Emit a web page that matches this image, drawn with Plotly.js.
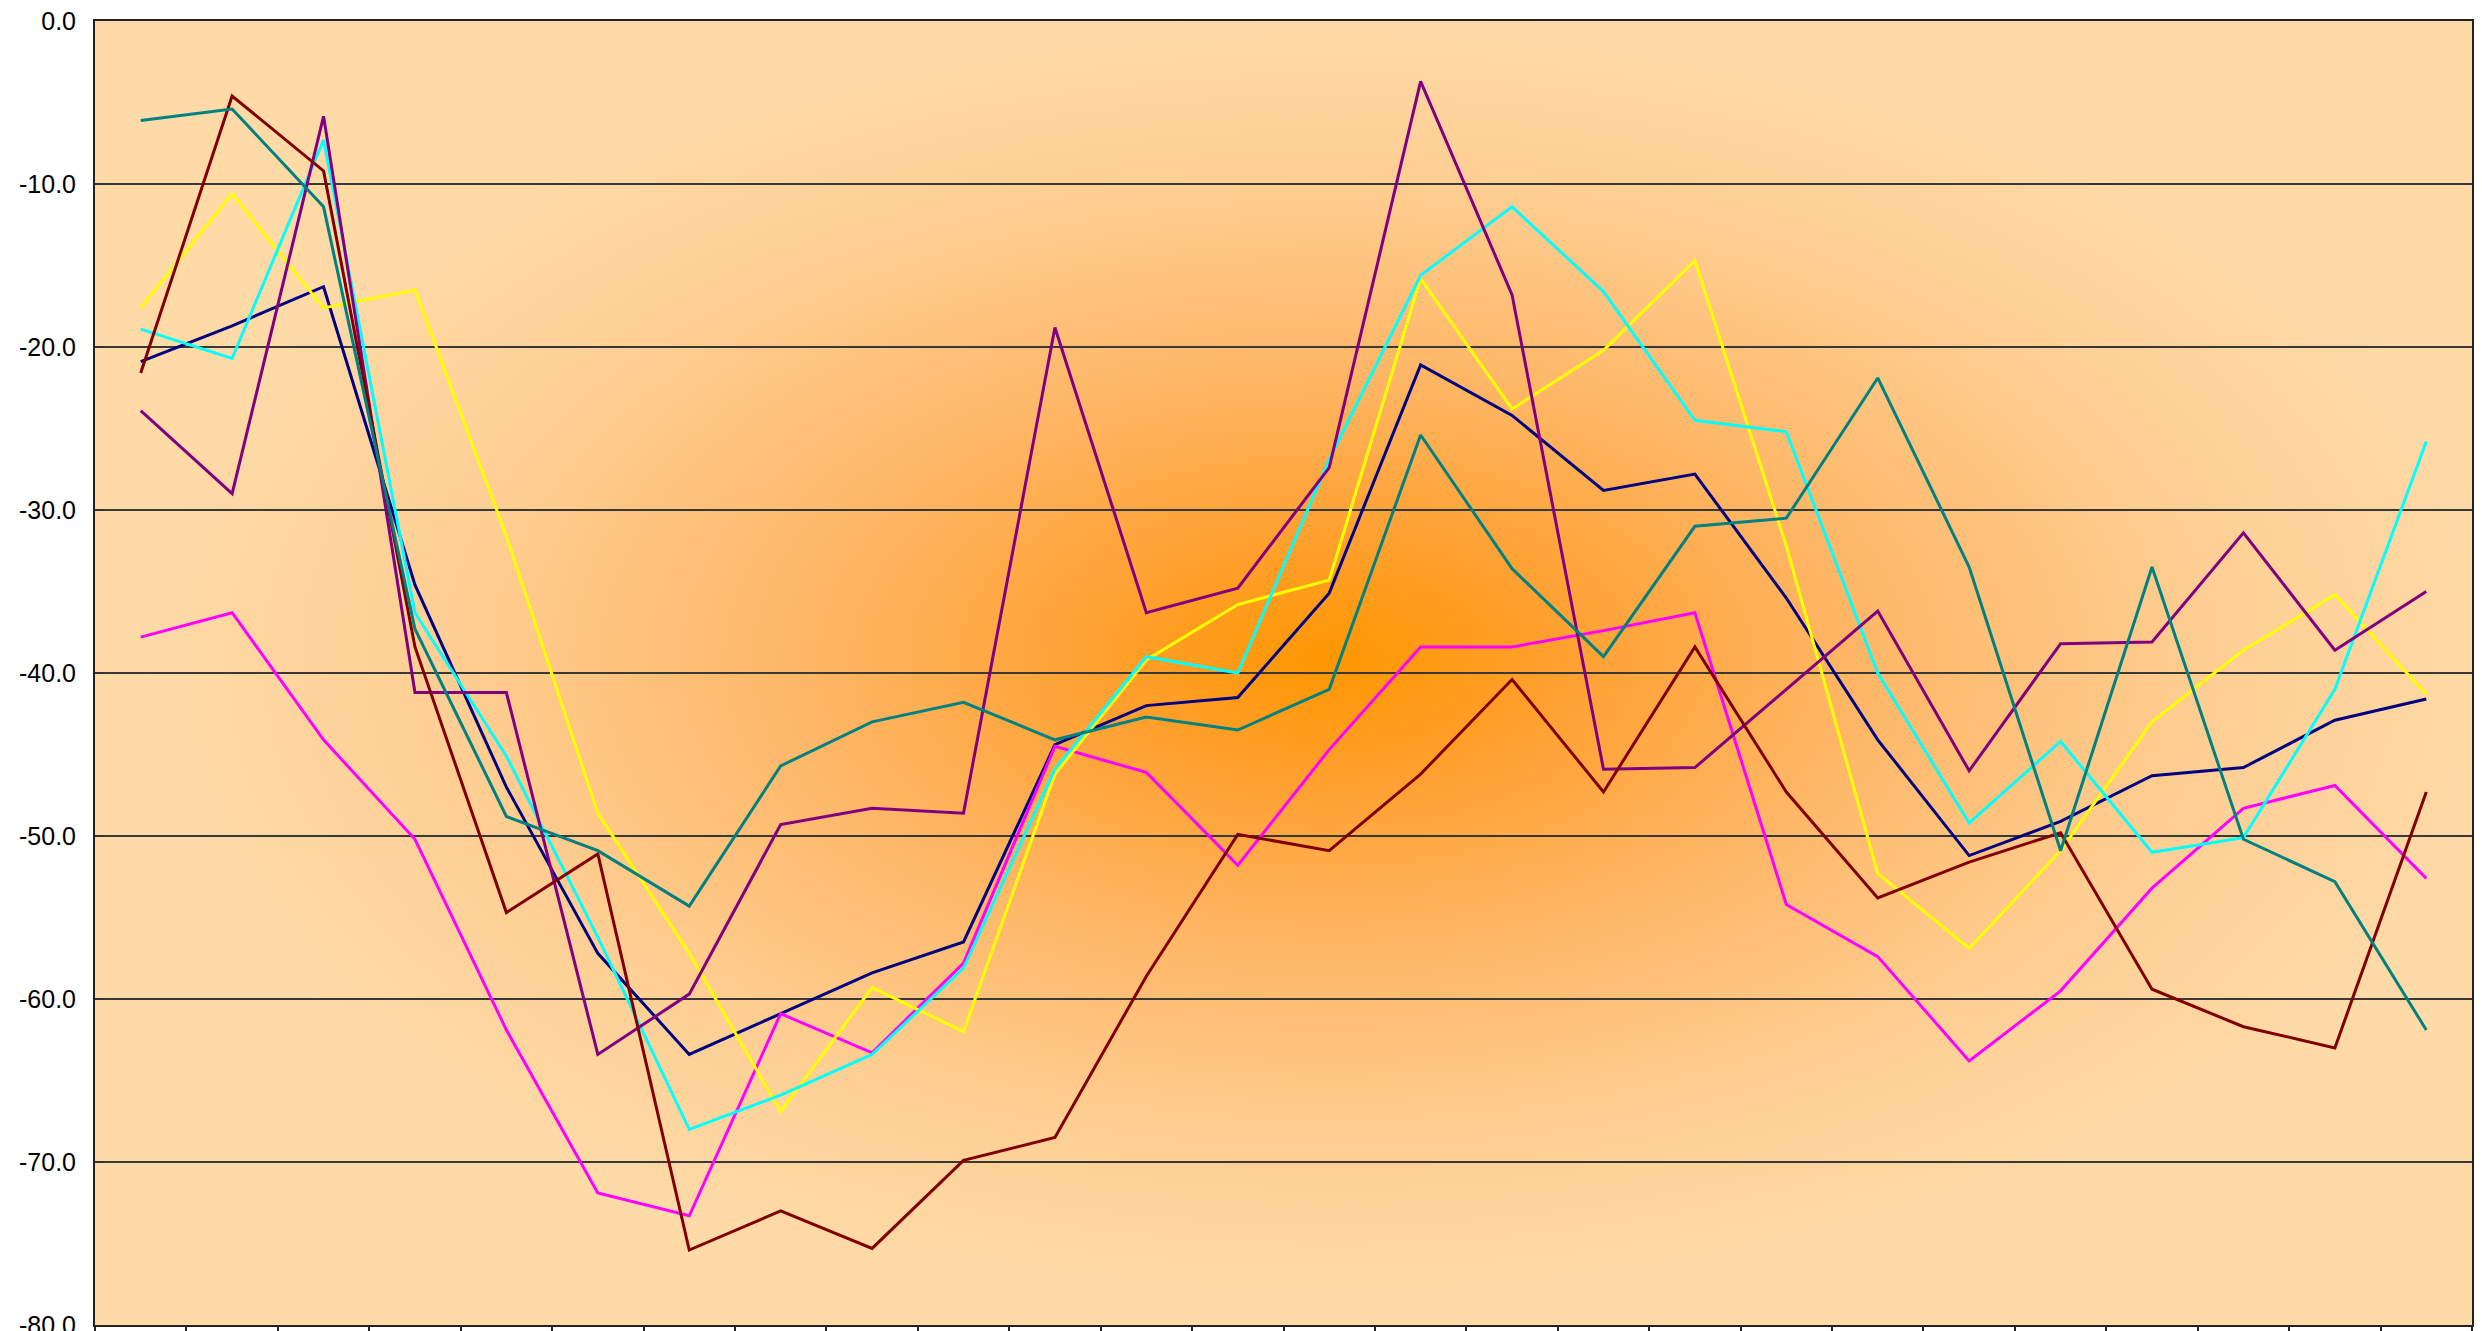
<!DOCTYPE html>
<html>
<head>
<meta charset="utf-8">
<script src="https://cdn.plot.ly/plotly-3.0.1.min.js"></script>
<style>
  html, body { margin: 0; padding: 0; background: #ffffff; }
  #chart { width: 2482px; height: 1331px; }
</style>
</head>
<body>
<div id="chart"></div>
<script>
// ---- data ----
const categories = ['1','2','3','4','5','6','7','8','9','10','11','12','13',
                    '14','15','16','17','18','19','20','21','22','23','24','25','26'];

const seriesNavy    = [-20.9, -18.7, -16.3, -34.6, -47.0, -57.2, -63.4, -60.9, -58.4, -56.5, -44.4, -42.0, -41.5,
                       -35.1, -21.1, -24.2, -28.8, -27.8, -35.4, -44.1, -51.2, -49.1, -46.3, -45.8, -42.9, -41.6];
const seriesMagenta = [-37.8, -36.3, -44.1, -50.2, -61.9, -71.9, -73.3, -60.9, -63.3, -57.8, -44.5, -46.1, -51.8,
                       -44.7, -38.4, -38.4, -37.4, -36.3, -54.2, -57.4, -63.8, -59.5, -53.2, -48.3, -46.9, -52.6];
const seriesYellow  = [-17.6, -10.6, -17.6, -16.5, -31.6, -48.6, -57.2, -66.9, -59.3, -62.0, -46.2, -39.2, -35.8,
                       -34.3, -15.8, -23.8, -20.2, -14.7, -32.2, -52.3, -56.9, -50.9, -43.0, -38.6, -35.2, -41.3];
const seriesCyan    = [-18.9, -20.7, -7.3, -36.3, -45.1, -56.2, -68.0, -65.9, -63.4, -58.1, -45.9, -39.0, -40.0,
                       -26.9, -15.6, -11.4, -16.6, -24.5, -25.2, -40.0, -49.2, -44.2, -51.0, -50.1, -41.0, -25.8];
const seriesPurple  = [-23.9, -29.0, -5.85, -41.2, -41.2, -63.4, -59.7, -49.3, -48.3, -48.6, -18.8, -36.3, -34.8,
                       -27.4, -3.7, -16.8, -45.9, -45.8, -41.0, -36.2, -46.0, -38.2, -38.1, -31.4, -38.6, -35.0];
const seriesDarkRed = [-21.6, -4.6, -9.2, -38.4, -54.7, -51.1, -75.4, -73.0, -75.3, -69.9, -68.5, -58.6, -49.9,
                       -50.9, -46.2, -40.4, -47.3, -38.4, -47.3, -53.8, -51.6, -49.8, -59.4, -61.7, -63.0, -47.3];
const seriesTeal    = [-6.1, -5.4, -11.4, -37.3, -48.8, -50.9, -54.3, -45.7, -43.0, -41.8, -44.1, -42.7, -43.5,
                       -41.0, -25.4, -33.6, -39.0, -31.0, -30.5, -21.9, -33.5, -50.9, -33.5, -50.2, -52.8, -61.9];

const yTickVals   = [0, -10, -20, -30, -40, -50, -60, -70, -80];
const yTickLabels = ['0.0', '-10.0', '-20.0', '-30.0', '-40.0', '-50.0', '-60.0', '-70.0', '-80.0'];

// ---- styles ----
const series = [
  {y: seriesNavy,    color: '#000080'},
  {y: seriesMagenta, color: '#FF00FF'},
  {y: seriesYellow,  color: '#FFFF00'},
  {y: seriesCyan,    color: '#00FFFF'},
  {y: seriesPurple,  color: '#800080'},
  {y: seriesDarkRed, color: '#800000'},
  {y: seriesTeal,    color: '#008080'}
];

const traces = series.map(s => ({
  type: 'scatter',
  mode: 'lines',
  x: categories,
  y: s.y,
  line: {color: s.color, width: 3},
  hoverinfo: 'skip',
  showlegend: false
}));

// radial background gradient (plot area)
const svg =
  '<svg xmlns="http://www.w3.org/2000/svg" width="1000" height="1000" viewBox="0 0 1000 1000" preserveAspectRatio="none">' +
  '<defs><radialGradient id="g" cx="0.52" cy="0.49" r="0.5" gradientUnits="objectBoundingBox">' +
  '<stop offset="0" stop-color="#FF9600"/>' +
  '<stop offset="0.2" stop-color="#FFA132"/>' +
  '<stop offset="0.45" stop-color="#FEB767"/>' +
  '<stop offset="0.75" stop-color="#FECF94"/>' +
  '<stop offset="1" stop-color="#FEDAA7"/>' +
  '</radialGradient></defs>' +
  '<rect x="0" y="0" width="1000" height="1000" fill="#FEDAA7"/>' +
  '<rect x="0" y="0" width="1000" height="1000" fill="url(#g)"/>' +
  '</svg>';
const bgSource = 'data:image/svg+xml;charset=utf-8,' + encodeURIComponent(svg);

const layout = {
  width: 2482,
  height: 1331,
  margin: {l: 95, r: 10, t: 21, b: 6, pad: 0},
  paper_bgcolor: '#FFFFFF',
  plot_bgcolor: '#FEDAA7',
  font: {family: 'Liberation Sans, Arial, sans-serif', size: 25, color: '#000000'},
  showlegend: false,
  xaxis: {
    type: 'category',
    range: [-0.5, 25.5],
    showticklabels: false,
    ticks: 'outside',
    tickson: 'boundaries',
    ticklen: 10,
    tickwidth: 2,
    tickcolor: '#222222',
    showgrid: false,
    zeroline: false,
    showline: true,
    linecolor: '#222222',
    linewidth: 2,
    mirror: true,
    fixedrange: true
  },
  yaxis: {
    range: [-80, 0],
    tickmode: 'array',
    tickvals: yTickVals,
    ticktext: yTickLabels,
    ticks: 'inside',
    ticklen: 8,
    tickwidth: 2,
    tickcolor: '#333333',
    ticklabelstandoff: 12,
    ticklabeloverflow: 'allow',
    showgrid: true,
    gridcolor: '#383838',
    gridwidth: 1.6,
    zeroline: false,
    showline: true,
    linecolor: '#222222',
    linewidth: 2,
    mirror: true,
    tickfont: {family: 'Liberation Sans, Arial, sans-serif', size: 25, color: '#000000'},
    fixedrange: true
  },
  images: [{
    source: bgSource,
    xref: 'paper', yref: 'paper',
    x: 0, y: 1, sizex: 1, sizey: 1,
    xanchor: 'left', yanchor: 'top',
    sizing: 'stretch',
    layer: 'below'
  }]
};

Plotly.newPlot('chart', traces, layout, {displayModeBar: false, staticPlot: true});
</script>
</body>
</html>
